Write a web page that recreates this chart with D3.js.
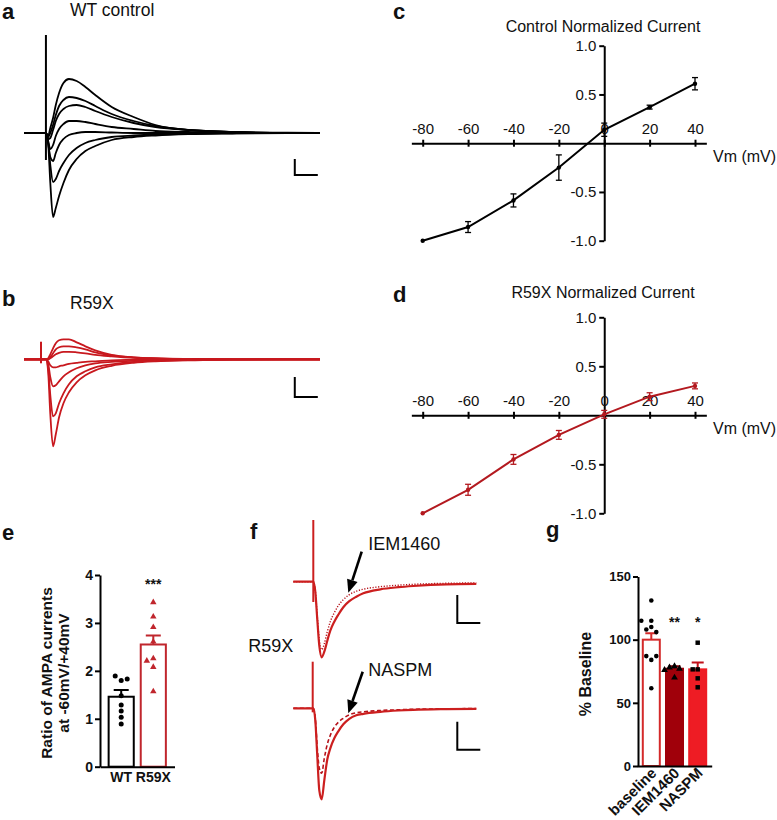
<!DOCTYPE html>
<html><head><meta charset="utf-8">
<script src="https://cdn.jsdelivr.net/npm/d3@7"></script>
<style>
html,body{margin:0;padding:0;background:#fff;}
svg{display:block;font-family:"Liberation Sans",Arial,Helvetica,sans-serif;}
</style></head><body>
<svg id="fig" width="777" height="820"></svg>
<script>
// ================= DATA =================
// Panels a/b : evoked AMPA currents (time in ms, amplitude in arbitrary pA units)
const traceTimes = [-20, 0, 2, 4, 6.5, 9, 12, 16, 21, 28, 36, 45, 60, 80, 100, 130, 170, 220, 250];
const wtTraces = [
  [0,0,-3,5,15,28,40,50,54,52,46,38,26,16,8,3,1,0.3,0],
  [0,0,-4,0,8,18,27,33,36,35,32,27,19,12,7,3,1,0,0],
  [0,0,-6,-5,3,12,19,24,27,28,26,22,16,10,6,3,1,0,0],
  [0,0,-8,-16,-12,-3,4,9,12,12,11,9,6,4,2,1,0,0,0],
  [0,0,-10,-24,-28,-20,-12,-6,-2,0,1,1,0.5,0,0,0,0,0,0],
  [0,0,-8,-32,-49,-46,-38,-30,-22,-15,-10,-7,-4,-2.5,-1.5,-0.7,-0.3,0,0],
  [0,0,-10,-50,-84,-75,-63,-50,-37,-26,-18,-13,-7,-4,-2.5,-1.2,-0.5,0,0]
];
const r59xTraces = [
  [0,0,1,5,11,16,19,20,20,17,13,9,4.5,2,1,0.3,0,0,0],
  [0,0,0,2,6,10,12,13,13,12,10,7,4,2,1,0.4,0,0,0],
  [0,0,0,1,3,5,6.5,7.5,7.5,7,6,4.5,3,1.5,0.8,0.3,0,0,0],
  [0,0,-2,-6,-8,-8,-7,-6,-4.5,-3.5,-2.5,-2,-1,-0.5,0,0,0,0,0],
  [0,0,-4,-18,-27,-26,-22,-17,-13,-9,-6,-4,-2.5,-1.5,-1,-0.5,0,0,0],
  [0,0,-8,-36,-57,-54,-44,-34,-25,-17,-12,-8,-5,-2.5,-1.5,-0.7,-0.3,0,0],
  [0,0,-12,-55,-87,-75,-58,-44,-33,-23,-16,-11,-6.5,-3.5,-2,-1,-0.4,0,0]
];
const artifactA = [0, 98, -27];      // time, top, bottom
const artifactB = [-4.5, 17.6, -4];
const scaleBarA = [227, 21, -26, -16]; // t0, duration, a0, amplitude
const scaleBarB = [227, 21, -17.7, -20];

// Panels c/d : I-V relations
const ivVoltages = [-80, -60, -40, -20, 0, 20, 40];
const ivControlMean = [-1.0, -0.86, -0.587, -0.25, 0.138, 0.37, 0.61];
const ivControlSem  = [0, 0.056, 0.067, 0.13, 0.068, 0.02, 0.063];
const ivR59XMean = [-1.0, -0.76, -0.45, -0.2, 0.01, 0.19, 0.30];
const ivR59XSem  = [0, 0.056, 0.05, 0.045, 0.04, 0.04, 0.03];
const ivYTicks = [-1, -0.5, 0.5, 1];

// Panel e : rectification ratio
const ratioGroups = ["WT", "R59X"];
const ratioMean = [1.46, 2.55];
const ratioSem = [0.14, 0.19];
const ratioWTPoints = [1.80, 1.89, 1.83, 1.48, 1.29, 1.16, 1.03, 0.89];
const ratioR59XPoints = [3.43, 3.13, 2.91, 2.61, 2.08, 2.21, 2.26, 1.57];
const ratioTicks = [0, 1, 2, 3, 4];

// Panel f : drug traces
const fTimes = [-20, 0, 2, 4, 6, 8.4, 11, 14, 17, 21, 25, 30, 36, 43, 50, 67, 85, 100, 133, 163];
const fTopControl = [0,0,-10,-38,-64,-75.6,-70,-59,-49,-40,-33,-25.5,-19.5,-15,-11.6,-7.6,-5.5,-4.3,-2.6,-2.2];
const fTopIEM     = [0,0,-9,-35,-58,-68,-62,-50,-40,-31,-24,-18,-13,-9.5,-7.5,-5,-3.5,-2.6,-1.6,-1.2];
const fBotControl = [0,0,-12,-48,-82,-91,-72,-51,-40,-30,-23,-16,-10.5,-7,-5.5,-3.5,-2.2,-1.5,-0.8,-0.5];
const fBotNASPM   = [0,0,-10,-40,-60,-65,-50,-36,-27,-19,-14,-10,-6.5,-4.5,-3.5,-2.2,-1.5,-1,-0.5,-0.3];
const artifactFTop = [0, 61.7, -20.3];
const artifactFBot = [-0.6, 46.6, -4];
const scaleBarF = [144, 23, -13.4, -28];
const arrowIEM = [48.4, 30, 35, -11];    // start t, start a, tip t, tip a
const arrowNASPM = [49.4, 36.6, 35, -5];

// Panel g : % baseline
const pctGroups = ["baseline", "IEM1460", "NASPM"];
const pctMean = [100, 77, 76.5];
const pctSem = [5, 2, 5.5];
const pctBaselinePts = [131, 84, 87, 87, 61.5, 110, 115, 115, 108, 106];
const pctIEMPts = [79, 78, 77, 76, 70];
const pctNASPMPts = [97.6, 76.5, 76.5, 69.4, 62.3];
const pctTicks = [0, 50, 100, 150];
const pctStars = ["", "**", "*"];

// ================= DRAWING =================
const svg = d3.select("#fig");
svg.append("rect").attr("width", 777).attr("height", 820).attr("fill", "#fff");
const INK = "#111";
const RED = "#c8181e";

function txt(x, y, s, size, opts = {}) {
  const t = svg.append("text").attr("x", x).attr("y", y).attr("font-size", size)
    .attr("fill", opts.fill || INK).text(s);
  if (opts.bold) t.attr("font-weight", "bold");
  if (opts.anchor) t.attr("text-anchor", opts.anchor);
  if (opts.rotate) t.attr("transform", `rotate(${opts.rotate},${x},${y})`);
  return t;
}
function styleAxis(sel, fs, bold) {
  sel.attr("font-family", null).attr("font-size", fs);
  sel.selectAll("path.domain").attr("stroke", "#000").attr("stroke-width", 2);
  sel.selectAll(".tick line").attr("stroke", "#000").attr("stroke-width", 2);
  sel.selectAll(".tick text").attr("fill", INK).attr("font-weight", bold ? "bold" : null);
}

// ---- panel letters ----
[["a", 2, 18.5], ["b", 2, 306], ["c", 393, 18.5], ["d", 393, 301.5], ["e", 2, 540], ["f", 250, 539], ["g", 546, 537]]
  .forEach(([l, x, y]) => txt(x, y, l, 22, { bold: true }));

// ---- panels a & b ----
function tracePanel(traces, yBase, color, artifact, bar, title, titleY) {
  const x = d3.scaleLinear().domain([-20, 250]).range([24, 320]);
  const y = d3.scaleLinear().domain([-100, 100]).range([yBase + 100, yBase - 100]);
  const line = d3.line().x((d, i) => x(traceTimes[i])).y(d => y(d)).curve(d3.curveMonotoneX);
  const g = svg.append("g");
  g.selectAll("path.tr").data(traces).join("path").attr("class", "tr")
    .attr("d", line).attr("fill", "none").attr("stroke", color).attr("stroke-width", 1.8)
    .attr("stroke-linejoin", "round");
  g.append("line").attr("x1", x(artifact[0])).attr("x2", x(artifact[0]))
    .attr("y1", y(artifact[1])).attr("y2", y(artifact[2])).attr("stroke", color).attr("stroke-width", 2);
  // scale bar
  g.append("path").attr("d", `M${x(bar[0])},${y(bar[2])}V${y(bar[2] + bar[3])}H${x(bar[0] + bar[1])}`)
    .attr("fill", "none").attr("stroke", "#000").attr("stroke-width", 2);
  txt(70, titleY, title, 17.5);
}
tracePanel(wtTraces, 133, "#000", artifactA, scaleBarA, "WT control", 15.5);
tracePanel(r59xTraces, 359.3, RED, artifactB, scaleBarB, "R59X", 308.5);

// ---- panels c & d ----
function ivPanel(yTop, yBot, mean, sem, color, title, titleY) {
  const x = d3.scaleLinear().domain([-85, 45]).range([411.35, 706.35]);
  const y = d3.scaleLinear().domain([-1, 1]).range([yBot, yTop]);
  const ya = svg.append("g").attr("transform", `translate(${x(0)},0)`)
    .call(d3.axisLeft(y).tickValues(ivYTicks).tickFormat(d => d.toFixed(1)).tickSize(5).tickPadding(3).tickSizeOuter(0));
  styleAxis(ya, 15, false);
  const xa = svg.append("g").attr("transform", `translate(0,${y(0)})`)
    .call(d3.axisTop(x).tickValues(ivVoltages).tickFormat(d => String(d)).tickSize(3.5).tickPadding(5.5).tickSizeOuter(0));
  styleAxis(xa, 15, false);
  xa.selectAll(".tick line").attr("y1", 3.5);
  txt(713, y(0) + 18.5, "Vm (mV)", 16);
  txt(603, titleY, title, 16, { anchor: "middle" });
  const pts = ivVoltages.map((v, i) => [v, mean[i], sem[i]]);
  svg.append("path").datum(pts).attr("d", d3.line().x(d => x(d[0])).y(d => y(d[1])))
    .attr("fill", "none").attr("stroke", color).attr("stroke-width", 2);
  const eb = svg.append("g").selectAll("g").data(pts.filter(d => d[2] > 0)).join("g");
  eb.append("line").attr("x1", d => x(d[0])).attr("x2", d => x(d[0]))
    .attr("y1", d => y(d[1] - d[2])).attr("y2", d => y(d[1] + d[2])).attr("stroke", color).attr("stroke-width", 1.3);
  [-1, 1].forEach(s => eb.append("line").attr("x1", d => x(d[0]) - 3).attr("x2", d => x(d[0]) + 3)
    .attr("y1", d => y(d[1] + s * d[2])).attr("y2", d => y(d[1] + s * d[2])).attr("stroke", color).attr("stroke-width", 1.3));
  svg.append("g").selectAll("circle").data(pts).join("circle")
    .attr("cx", d => x(d[0])).attr("cy", d => y(d[1])).attr("r", 2.2).attr("fill", color);
}
ivPanel(45.7, 240.7, ivControlMean, ivControlSem, "#000", "Control Normalized Current", 32);
ivPanel(317.3, 513.3, ivR59XMean, ivR59XSem, "#b3191f", "R59X Normalized Current", 298);

// ---- beeswarm helper ----
function swarm(values, yScale, cx, minDist, step) {
  const placed = [];
  return values.map(v => {
    const py = yScale(v);
    const offs = [0, -step, step, -2 * step, 2 * step];
    for (const o of offs) {
      const px = cx + o;
      if (placed.every(p => Math.hypot(p[0] - px, p[1] - py) >= minDist)) { placed.push([px, py]); return [px, py]; }
    }
    placed.push([cx, py]); return [cx, py];
  });
}

// ---- panel e ----
(function () {
  const x = d3.scaleBand().domain(ratioGroups).range([100, 174.5]).paddingInner(0.155).paddingOuter(0.238);
  const y = d3.scaleLinear().domain([0, 4]).range([766.7, 575]);
  const cols = ["#000", "#c0262d"];
  ratioGroups.forEach((gname, i) => {
    const cx = x(gname) + x.bandwidth() / 2;
    svg.append("rect").attr("x", x(gname) + 1).attr("y", y(ratioMean[i])).attr("width", x.bandwidth() - 2)
      .attr("height", y(0) - y(ratioMean[i])).attr("fill", "#fff").attr("stroke", cols[i]).attr("stroke-width", 2);
    svg.append("path").attr("d", `M${cx},${y(ratioMean[i])}V${y(ratioMean[i] + ratioSem[i])}M${cx - 7.5},${y(ratioMean[i] + ratioSem[i])}H${cx + 7.5}`)
      .attr("stroke", cols[i]).attr("stroke-width", 2).attr("fill", "none");
  });
  const ya = svg.append("g").attr("transform", "translate(100,0)")
    .call(d3.axisLeft(y).tickValues(ratioTicks).tickFormat(d3.format("d")).tickSize(5).tickPadding(2).tickSizeOuter(0));
  styleAxis(ya, 14, true);
  const xa = svg.append("g").attr("transform", `translate(0,${y(0)})`)
    .call(d3.axisBottom(x).tickSize(0).tickPadding(5).tickSizeOuter(0));
  styleAxis(xa, 14, true);
  const cW = x("WT") + x.bandwidth() / 2, cR = x("R59X") + x.bandwidth() / 2;
  svg.append("g").selectAll("circle").data(swarm(ratioWTPoints, y, cW, 5.5, 6)).join("circle")
    .attr("cx", d => d[0]).attr("cy", d => d[1]).attr("r", 2.5).attr("fill", "#000");
  const tri = d3.symbol().type(d3.symbolTriangle).size(18);
  svg.append("g").selectAll("path").data(swarm(ratioR59XPoints, y, cR, 6.5, 6.5)).join("path")
    .attr("d", tri).attr("transform", d => `translate(${d[0]},${d[1]})`).attr("fill", "#c0262d");
  txt(cR, 589, "***", 14, { bold: true, anchor: "middle" });
  txt(52, 673, "Ratio of AMPA currents", 15.5, { bold: true, anchor: "middle", rotate: -90 });
  txt(69, 673, "at -60mV/+40mV", 15.5, { bold: true, anchor: "middle", rotate: -90 });
})();

// ---- panel f ----
(function () {
  const x = d3.scaleLinear().domain([-20, 163]).range([293.3, 476.3]);
  const yT = d3.scaleLinear().domain([-100, 100]).range([681.7, 481.7]);
  const yB = d3.scaleLinear().domain([-100, 100]).range([808.3, 608.3]);
  const mk = y => d3.line().x((d, i) => x(fTimes[i])).y(d => y(d)).curve(d3.curveMonotoneX);
  const draw = (data, y, col, w, dash) => {
    const p = svg.append("path").attr("d", mk(y)(data)).attr("fill", "none").attr("stroke", col)
      .attr("stroke-width", w).attr("stroke-linejoin", "round");
    if (dash) p.attr("stroke-dasharray", dash);
  };
  draw(fTopIEM, yT, "#b5121a", 1.4, "1.2,1.6");
  draw(fTopControl, yT, "#cc1f1f", 2.2);
  draw(fBotNASPM, yB, "#b5121a", 1.6, "4,2.5");
  draw(fBotControl, yB, "#cc1f1f", 2.2);
  [[artifactFTop, yT], [artifactFBot, yB]].forEach(([a, y]) =>
    svg.append("line").attr("x1", x(a[0])).attr("x2", x(a[0])).attr("y1", y(a[1])).attr("y2", y(a[2]))
      .attr("stroke", "#cc1f1f").attr("stroke-width", 2));
  [yT, yB].forEach(y => svg.append("path")
    .attr("d", `M${x(scaleBarF[0])},${y(scaleBarF[2])}V${y(scaleBarF[2] + scaleBarF[3])}H${x(scaleBarF[0] + scaleBarF[1])}`)
    .attr("fill", "none").attr("stroke", "#000").attr("stroke-width", 2));
  function arrow(a, y) {
    const x0 = x(a[0]), y0 = y(a[1]), x1 = x(a[2]), y1 = y(a[3]);
    const ang = Math.atan2(y1 - y0, x1 - x0), L = 13, W = 5.5;
    const bx = x1 - L * Math.cos(ang), by = y1 - L * Math.sin(ang);
    svg.append("line").attr("x1", x0).attr("y1", y0).attr("x2", bx).attr("y2", by).attr("stroke", "#000").attr("stroke-width", 2.6);
    svg.append("path").attr("d", `M${x1},${y1}L${bx + W * Math.sin(ang)},${by - W * Math.cos(ang)}L${bx - W * Math.sin(ang)},${by + W * Math.cos(ang)}Z`).attr("fill", "#000");
  }
  arrow(arrowIEM, yT);
  arrow(arrowNASPM, yB);
  txt(368.3, 550, "IEM1460", 18);
  txt(368.3, 676, "NASPM", 18);
  txt(248.3, 651.7, "R59X", 18);
})();

// ---- panel g ----
(function () {
  const x = d3.scaleBand().domain(pctGroups).range([637.3, 711.7]).paddingInner(0.181).paddingOuter(0.194);
  const y = d3.scaleLinear().domain([0, 150]).range([766, 576.5]);
  const fills = ["#fff", "#a0000a", "#ee1c24"];
  const strokes = ["#d42a2a", "#a0000a", "#ee1c24"];
  const errc = ["#d42a2a", "#7a0006", "#c0101a"];
  pctGroups.forEach((gname, i) => {
    const cx = x(gname) + x.bandwidth() / 2;
    svg.append("rect").attr("x", x(gname) + 1).attr("y", y(pctMean[i])).attr("width", x.bandwidth() - 2)
      .attr("height", y(0) - y(pctMean[i])).attr("fill", fills[i]).attr("stroke", strokes[i]).attr("stroke-width", 2);
    svg.append("path").attr("d", `M${cx},${y(pctMean[i])}V${y(pctMean[i] + pctSem[i])}M${cx - 6},${y(pctMean[i] + pctSem[i])}H${cx + 6}`)
      .attr("stroke", errc[i]).attr("stroke-width", 2).attr("fill", "none");
    if (pctStars[i]) txt(cx, 627, pctStars[i], 14, { bold: true, anchor: "middle" });
  });
  const ya = svg.append("g").attr("transform", "translate(638,0)")
    .call(d3.axisLeft(y).tickValues(pctTicks).tickFormat(d3.format("d")).tickSize(5).tickPadding(2).tickSizeOuter(0));
  styleAxis(ya, 13, true);
  const xa = svg.append("g").attr("transform", `translate(0,${y(0)})`)
    .call(d3.axisBottom(x).tickSize(0).tickSizeOuter(0));
  styleAxis(xa, 15, true);
  xa.selectAll(".tick text").attr("y", 0).attr("dy", null).attr("text-anchor", "end")
    .attr("transform", "translate(6,8) rotate(-45)");
  const cxOf = g => x(g) + x.bandwidth() / 2;
  svg.append("g").selectAll("circle").data(swarm(pctBaselinePts, y, cxOf("baseline"), 5.5, 5)).join("circle")
    .attr("cx", d => d[0]).attr("cy", d => d[1]).attr("r", 2.3).attr("fill", "#000");
  const tri = d3.symbol().type(d3.symbolTriangle).size(20);
  svg.append("g").selectAll("path").data(swarm(pctIEMPts, y, cxOf("IEM1460"), 5, 5)).join("path")
    .attr("d", tri).attr("transform", d => `translate(${d[0]},${d[1]})`).attr("fill", "#000");
  const sq = d3.symbol().type(d3.symbolSquare).size(20);
  svg.append("g").selectAll("path").data(swarm(pctNASPMPts, y, cxOf("NASPM"), 5, 5)).join("path")
    .attr("d", sq).attr("transform", d => `translate(${d[0]},${d[1]})`).attr("fill", "#000");
  txt(591, 674, "% Baseline", 16, { bold: true, anchor: "middle", rotate: -90 });
})();
</script>
</body></html>
